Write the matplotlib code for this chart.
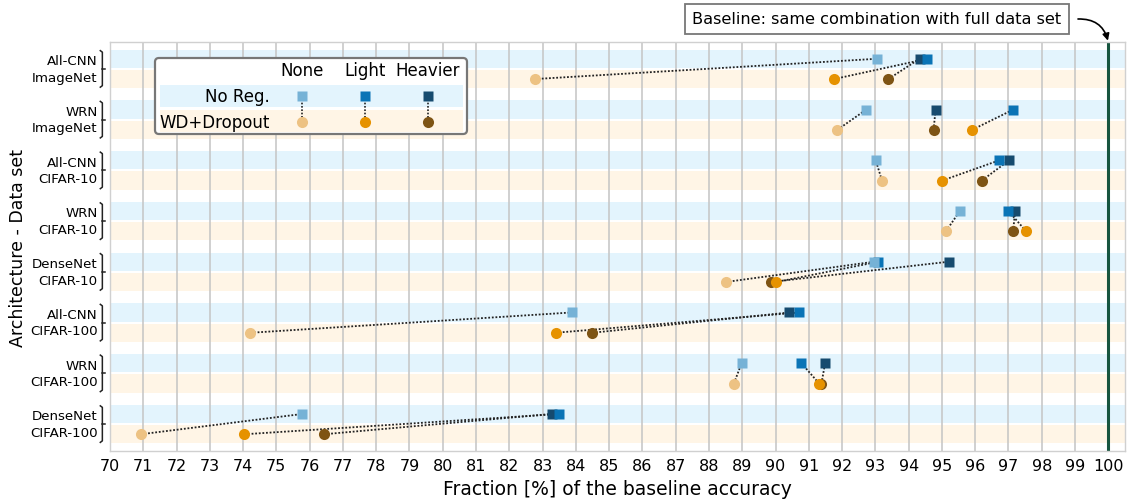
import matplotlib
matplotlib.use("Agg")
import matplotlib.pyplot as plt
import matplotlib.transforms as mtransforms
from matplotlib.patches import FancyBboxPatch, Rectangle

# accuracy as a fraction [%] of the full-data baseline
groups = ["All-CNN\nImageNet", "WRN\nImageNet", "All-CNN\nCIFAR-10", "WRN\nCIFAR-10",
          "DenseNet\nCIFAR-10", "All-CNN\nCIFAR-100", "WRN\nCIFAR-100", "DenseNet\nCIFAR-100"]
levels = ["None", "Light", "Heavier"]
rows = ["No Reg.", "WD+Dropout"]

noreg_none = [93.05, 92.73, 93.01, 95.54, 92.96, 83.87, 88.98, 75.78]
noreg_light = [94.56, 97.15, 96.73, 97.00, 93.09, 90.72, 90.78, 83.50]
noreg_heavier = [94.33, 94.81, 97.02, 97.20, 95.20, 90.41, 91.49, 83.27]
wd_none = [82.76, 91.86, 93.20, 95.12, 88.50, 74.22, 88.75, 70.93]
wd_light = [91.76, 95.91, 95.01, 97.53, 90.02, 83.39, 91.31, 74.04]
wd_heavier = [93.39, 94.75, 96.20, 97.14, 89.85, 84.49, 91.38, 76.43]

baseline = 100
xticks = list(range(70, 101))

blue = ["#76b2d6", "#0a74b6", "#164b6f"]
orange = ["#edc283", "#e69200", "#7e5414"]
band_blue = "#e3f4fd"
band_orange = "#fff5e6"

fig = plt.figure(figsize=(11.29, 5.02), dpi=100)
ax = fig.add_axes([0.0974, 0.0996, 0.899, 0.8147])

ax.set_xlim(70, 100.5)
ax.set_ylim(len(groups) - 0.47, -0.53)

off = 0.2
half = 0.18
for i in range(len(groups)):
    ax.add_patch(Rectangle((60, i - off - half), 50, 2 * half, color=band_blue, lw=0, zorder=0))
    ax.add_patch(Rectangle((60, i + off - half), 50, 2 * half, color=band_orange, lw=0, zorder=0))

for x in xticks:
    ax.axvline(x, color="#c4c4c4", lw=1.1, zorder=1)
ax.axvline(baseline, color="#17553f", lw=2.2, zorder=2)

sq_series = [noreg_heavier, noreg_light, noreg_none]
ci_series = [wd_heavier, wd_light, wd_none]
sq_cols = blue[::-1]
ci_cols = orange[::-1]

for i in range(len(groups)):
    for sq, ci in zip(sq_series, ci_series):
        ax.plot([ci[i], sq[i]], [i + off, i - off], ls=(0, (1, 1)), color="#222222",
                lw=1.3, zorder=3)

# heavier drawn first so lighter markers sit on top
for k in range(3):
    ax.plot(sq_series[k], [i - off for i in range(len(groups))], ls="none", marker="s",
            ms=7, color=sq_cols[k], mec="none", zorder=4 + k)
    ax.plot(ci_series[k], [i + off for i in range(len(groups))], ls="none", marker="o",
            ms=8, color=ci_cols[k], mec="none", zorder=4 + k)

ax.set_xticks(xticks)
ax.set_xticklabels([str(x) for x in xticks], fontsize=11.5)
ax.set_yticks([])
ax.tick_params(axis="x", length=0, pad=5)
for s in ax.spines.values():
    s.set_color("#d0d0d0")
    s.set_linewidth(1)
ax.set_xlabel("Fraction [%] of the baseline accuracy", fontsize=13.5, labelpad=4)
ax.set_ylabel("Architecture - Data set", fontsize=12.5, labelpad=60)

# group labels with a brace on the left
trans = mtransforms.blended_transform_factory(ax.transAxes, ax.transData)
for i, g in enumerate(groups):
    ax.text(-0.012, i, g, transform=trans, ha="right", va="center", fontsize=9.6,
            linespacing=1.35)
    xb = -0.0075
    ax.plot([xb - 0.002, xb, xb, xb - 0.002], [i - 0.36, i - 0.33, i + 0.33, i + 0.36],
            transform=trans, color="#222222", lw=1.1, clip_on=False)
    ax.plot([xb, xb + 0.003], [i, i], transform=trans, color="#222222", lw=1.1,
            clip_on=False)

# baseline note, arrow from the box edge down to the baseline line
fig.text(877 / 1129, 1 - 20 / 502, "Baseline: same combination with full data set",
         ha="center", va="center", fontsize=11.6,
         bbox=dict(boxstyle="square,pad=0.45", fc="white", ec="#777777", lw=1.3))
ax.annotate("", xy=(baseline, -0.53), xycoords="data",
            xytext=(1078, 482), textcoords="figure pixels",
            arrowprops=dict(arrowstyle="-|>", color="black", lw=1.2,
                            connectionstyle="arc3,rad=-0.4", shrinkA=0, shrinkB=1),
            annotation_clip=False)

# custom legend: regularisation level by column, row per method
lg = fig.add_axes([153 / 1129, 1 - 137 / 502, 316 / 1129, 80 / 502])
lg.set_xlim(0, 316)
lg.set_ylim(80, 0)
lg.axis("off")
lg.add_patch(FancyBboxPatch((2, 2), 312, 76, boxstyle="round,pad=0,rounding_size=4",
                            fc="white", ec="#777777", lw=1.6))
lg.add_patch(Rectangle((7, 29), 303, 22, color=band_blue, lw=0))
lg.add_patch(Rectangle((7, 54), 303, 22, color=band_orange, lw=0))
col_x = [149, 212, 275]
for k, name in enumerate(levels):
    lg.text(col_x[k], 14, name, ha="center", va="center", fontsize=12)
    lg.plot([col_x[k], col_x[k]], [40, 65], ls=(0, (1, 1)), color="#222222", lw=1.2)
    lg.plot(col_x[k], 40, marker="s", ms=7, color=blue[k], mec="none")
    lg.plot(col_x[k], 66, marker="o", ms=8, color=orange[k], mec="none")
lg.text(117, 40, rows[0], ha="right", va="center", fontsize=12)
lg.text(117, 66, rows[1], ha="right", va="center", fontsize=12)

fig.savefig("out.png", dpi=100)
